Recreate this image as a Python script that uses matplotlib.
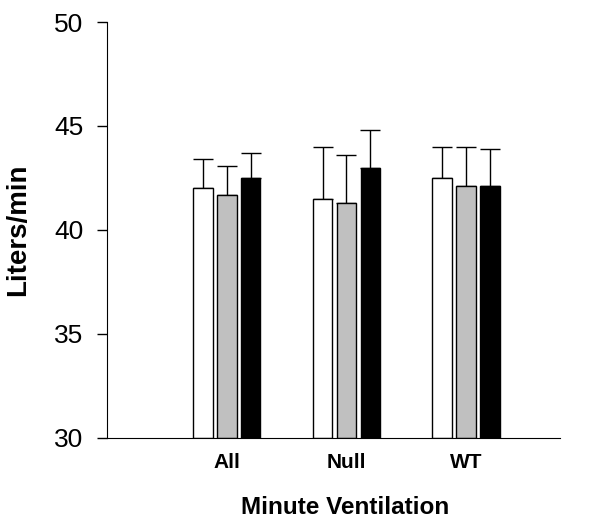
import matplotlib
matplotlib.use("Agg")
import matplotlib.pyplot as plt
import numpy as np

plt.rcParams['font.family'] = ['Liberation Sans', 'DejaVu Sans']

groups = ['All', 'Null', 'WT']
white_vals = [42.0, 41.5, 42.5]
white_err = [1.4, 2.5, 1.5]
grey_vals = [41.7, 41.3, 42.1]
grey_err = [1.4, 2.3, 1.9]
black_vals = [42.5, 43.0, 42.1]
black_err = [1.2, 1.8, 1.8]

fig = plt.figure(figsize=(6, 5.25), dpi=100)
ax = fig.add_axes([0.178, 0.166, 0.755, 0.792])

x = np.arange(len(groups))
w = 0.165
off = 0.2
series = [(white_vals, white_err, 'white'),
          (grey_vals, grey_err, '#c0c0c0'),
          (black_vals, black_err, 'black')]
for i, (vals, errs, col) in enumerate(series):
    pos = x + (i - 1) * off
    ax.bar(pos, np.array(vals) - 30, bottom=30, width=w, color=col,
           edgecolor='black', linewidth=1.0, zorder=2)
    ax.errorbar(pos, vals, yerr=[np.zeros(len(errs)), errs], fmt='none',
                ecolor='black', elinewidth=1.0, capsize=7.5, capthick=1.0,
                zorder=1)

ax.set_ylim(30, 50)
ax.set_xlim(-1.0, 2.78)
ax.set_yticks([30, 35, 40, 45, 50])
ax.tick_params(axis='y', labelsize=19, length=7, width=1, direction='out', pad=10)
ax.set_xticks(x)
ax.set_xticklabels(groups, fontsize=15, fontweight='bold')
ax.tick_params(axis='x', length=0, pad=11)

ax.spines['top'].set_visible(False)
ax.spines['right'].set_visible(False)

ax.set_ylabel('Liters/min', fontsize=20, fontweight='bold')
ax.yaxis.set_label_coords(-0.166, 0.5)
ax.set_xlabel('Minute Ventilation', fontsize=17.5, fontweight='bold')
ax.xaxis.set_label_coords(0.527, -0.14)

fig.savefig('out.png', dpi=100)
